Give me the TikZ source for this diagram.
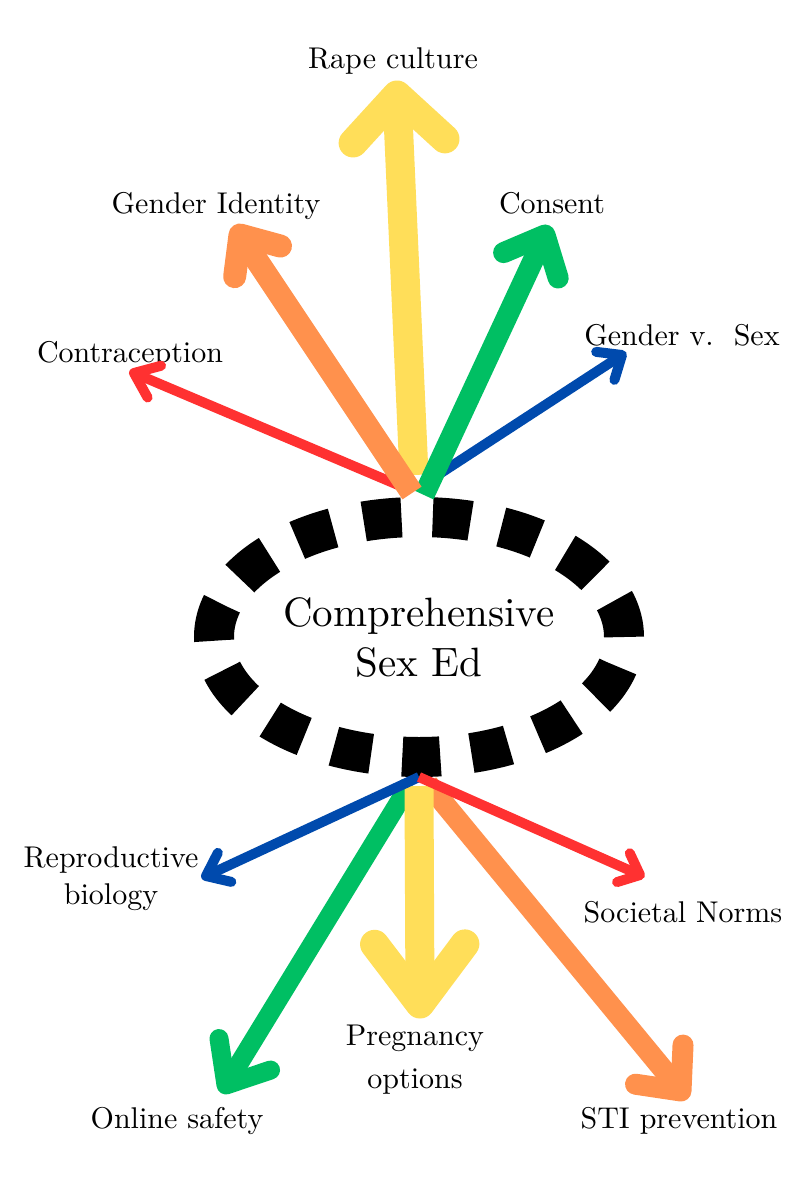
\documentclass[tikz,border=0pt]{standalone}
\usepackage{fontspec}
\setmainfont{lmroman10-regular.otf}
\usetikzlibrary{calc,shapes.geometric}
\definecolor{cyellow}{HTML}{FFDE59}
\definecolor{corange}{HTML}{FF914D}
\definecolor{cgreen}{HTML}{00BF63}
\definecolor{cblue}{HTML}{004AAD}
\definecolor{cred}{HTML}{FF3131}
\tikzset{
  lab/.style={font=\fontsize{30}{38}\selectfont, inner sep=0pt, anchor=base, align=center, text=black},
  hubstyle/.style={ellipse, draw=black, line width=40pt, dash pattern=on 38pt off 31.3pt, dash phase=0pt,
    minimum width=410pt, minimum height=240pt, inner sep=0pt, align=center,
    font=\fontsize{41}{52}\selectfont},
  arr/.style={line cap=round, line join=round},
}
\newcommand{\fatarrow}[5]{%
  \draw[arr,#1,line cap=butt] (#2) -- (#3);
  \draw[arr,#1] ($(#3)!#4!#5:(#2)$) -- (#3) -- ($(#3)!#4!-#5:(#2)$);
}
\begin{document}
\begin{tikzpicture}[x=1pt,y=-1pt]
\useasboundingbox (0,0) rectangle (800,1183);
\fill[white] (0,0) rectangle (800,1183);

% central ellipse
\node[hubstyle] (hub) at (419,637) {Comprehensive\\[-2pt]Sex Ed};

% labels
\node[lab] (rape) at (393,68) {Rape culture};
\node[lab] (gid) at (216,213) {Gender Identity};
\node[lab] (consent) at (552,213) {Consent};
\node[lab] (contra) at (130,362) {Contraception};
\node[lab] (gvs) at (682,345) {Gender v.\ \ Sex};
\node[lab] (repro) at (111,904) {Reproductive\\[-1pt]biology};
\node[lab] (norms) at (683,922) {Societal Norms};
\node[lab] (preg) at (415,1088) {Pregnancy\\[5pt]options};
\node[lab] (online) at (177,1128) {Online safety};
\node[lab] (sti) at (679,1128) {STI prevention};

% start and tip coordinates
\coordinate (sRed) at (410,490);   \coordinate (tRed) at (134,373);
\coordinate (sBlue) at (424,484);  \coordinate (tBlue) at (622,355);
\coordinate (sYel) at (414,475);   \coordinate (tYel) at (397,95);
\coordinate (sGrn) at (424,495);   \coordinate (tGrn) at (545,235);
\coordinate (sOrg) at (412,493);   \coordinate (tOrg) at (240,235);

\coordinate (bYel) at (419,786);   \coordinate (uYel) at (420,1004);
\coordinate (bGrn) at (410,784);   \coordinate (uGrn) at (226,1085);
\coordinate (bOrg) at (428,784);   \coordinate (uOrg) at (681,1091);
\coordinate (bBlue) at (419,777);  \coordinate (uBlue) at (206,876);
\coordinate (bRed) at (419,777);   \coordinate (uRed) at (640,875);

% top arrows
\fatarrow{cred,line width=10pt}{sRed}{tRed}{28pt}{38}
\fatarrow{cblue,line width=10pt}{sBlue}{tBlue}{26pt}{40}
\fatarrow{cyellow,line width=29pt}{sYel}{tYel}{65pt}{45}
\fatarrow{cgreen,line width=21pt}{sGrn}{tGrn}{45pt}{42}
\fatarrow{corange,line width=23pt}{sOrg}{tOrg}{42pt}{41}

% bottom arrows
\fatarrow{cgreen,line width=19pt}{bGrn}{uGrn}{47pt}{40}
\fatarrow{corange,line width=21pt}{bOrg}{uOrg}{46pt}{42}
\fatarrow{cyellow,line width=29pt}{bYel}{uYel}{75pt}{37}
\fatarrow{cblue,line width=10pt}{bBlue}{uBlue}{26pt}{38}
\fatarrow{cred,line width=10pt}{bRed}{uRed}{24pt}{41}
\end{tikzpicture}
\end{document}
